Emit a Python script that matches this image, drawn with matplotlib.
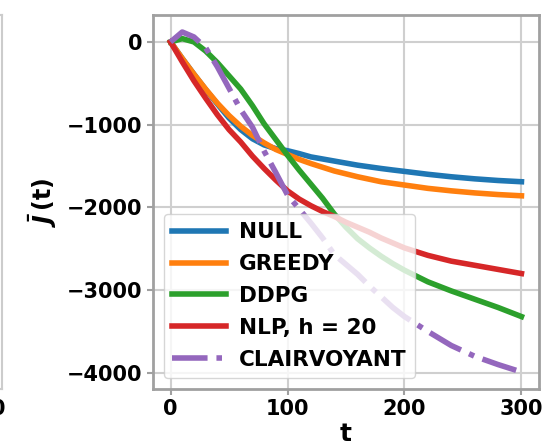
import matplotlib
matplotlib.use("Agg")
import matplotlib.pyplot as plt

# time steps where the curves were sampled
t = [0, 10, 20, 30, 40, 50, 60, 70, 80, 90, 100, 110, 120, 130, 140, 150,
     160, 170, 180, 190, 200, 220, 240, 260, 280, 300]

null = [0, -200, -390, -575, -750, -920, -1060, -1170, -1245, -1290, -1315, -1350,
        -1390, -1415, -1440, -1465, -1490, -1510, -1530, -1548, -1565, -1600,
        -1630, -1655, -1675, -1690]
greedy = [0, -200, -390, -570, -740, -890, -1020, -1130, -1220, -1300, -1360, -1420,
          -1470, -1515, -1560, -1595, -1630, -1660, -1690, -1710, -1730, -1770,
          -1800, -1825, -1845, -1860]
ddpg = [0, 40, 0, -110, -250, -410, -570, -770, -990, -1180, -1370, -1550, -1720,
        -1890, -2080, -2240, -2380, -2490, -2590, -2680, -2760, -2900, -3010,
        -3110, -3210, -3320]
nlp = [0, -240, -470, -680, -880, -1060, -1210, -1380, -1530, -1670, -1800, -1900,
       -1980, -2050, -2110, -2180, -2240, -2300, -2370, -2430, -2490, -2580,
       -2650, -2700, -2750, -2800]
clairvoyant = [0, 120, 60, -70, -300, -560, -820, -1030, -1320, -1580, -1850, -2020,
               -2190, -2370, -2570, -2690, -2810, -2950, -3080, -3210, -3320, -3500,
               -3670, -3800, -3900, -3990]

labels = ["NULL", "GREEDY", "DDPG", "NLP, h = 20", "CLAIRVOYANT"]
colors = ["#1f77b4", "#ff7f0e", "#2ca02c", "#d62728", "#9467bd"]
x_ticks = [0, 100, 200, 300]
y_ticks = [0, -1000, -2000, -3000, -4000]

plt.rcParams["font.family"] = "DejaVu Sans"
plt.rcParams["font.weight"] = "bold"

fig = plt.figure(figsize=(5.42, 4.44), dpi=100)
W, H = 542.0, 444.0
left, right, bottom, top = 153 / W, 539 / W, (H - 389) / H, (H - 15) / H

# piece of the neighbouring subplot, only its right edge shows
ax0 = fig.add_axes([1.5 / W - (right - left), bottom, right - left, top - bottom])
ax0.set_xlim(-15, 315)
ax0.set_xticks(x_ticks)
ax0.set_yticks([])
for s in ax0.spines.values():
    s.set_color("#cccccc")
    s.set_linewidth(1.5)
ax0.tick_params(axis="x", labelsize=15, colors="#bbbbbb", labelcolor="black")

ax = fig.add_axes([left, bottom, right - left, top - bottom])
series = [null, greedy, ddpg, nlp, clairvoyant]
for i, y in enumerate(series):
    ls = "-." if labels[i] == "CLAIRVOYANT" else "-"
    ax.plot(t, y, color=colors[i], lw=4, ls=ls, label=labels[i])

ax.set_xticks(x_ticks)
ax.set_yticks(y_ticks)
ax.grid(True, color="#cfcfcf", lw=1.5)
for s in ax.spines.values():
    s.set_color("#a0a0a0")
    s.set_linewidth(2)
ax.tick_params(labelsize=15, colors="#a0a0a0", labelcolor="black", length=4, width=1.5)
for lab in ax.get_xticklabels() + ax.get_yticklabels():
    lab.set_fontweight("bold")

ax.set_xlabel("t", fontsize=18, fontweight="bold", labelpad=2)
ax.set_ylabel(r"$\bar{J}\,\mathbf{(t)}$", fontsize=17, labelpad=6)

leg = ax.legend(loc="lower left", fontsize=15.5, handlelength=2.5,
                handletextpad=0.6, borderaxespad=0.5, labelspacing=0.55)
for txt in leg.get_texts():
    txt.set_fontweight("bold")

fig.savefig("out.png", dpi=100)
